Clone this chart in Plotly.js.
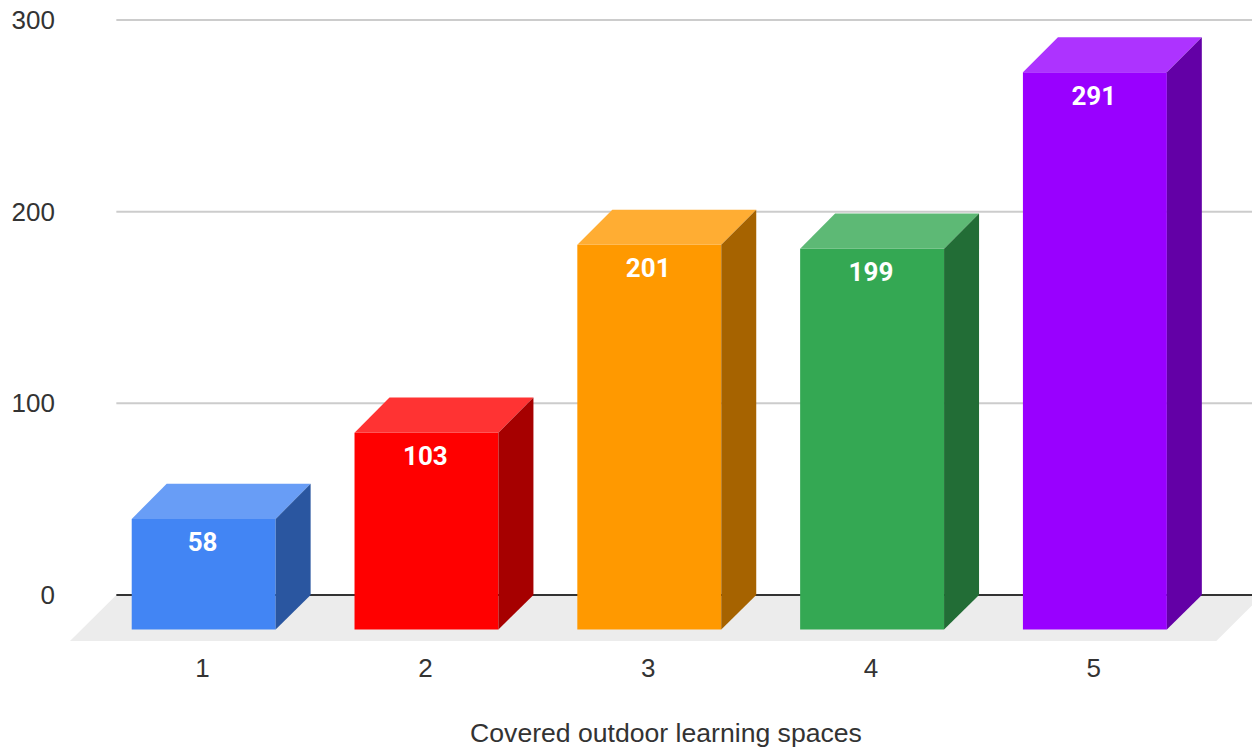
<!DOCTYPE html>
<html>
<head>
<meta charset="utf-8">
<script src="https://cdn.plot.ly/plotly-3.0.1.min.js"></script>
<style>html,body{margin:0;padding:0;background:#fff;overflow:hidden}#frame{width:1252px;height:748px;overflow:hidden}#chart{width:1262px;height:748px}</style>
</head>
<body>
<div id="frame"><div id="chart"></div></div>
<script>
var categories = [1, 2, 3, 4, 5];
var values = [58, 103, 201, 199, 291];
var frontColors = ['#4285f4', '#ff0000', '#ff9900', '#34a853', '#9900ff'];
var topColors = ['#689df6', '#ff3333', '#ffad33', '#5db975', '#ad33ff'];
var sideColors = ['#2a56a0', '#a60000', '#a66300', '#226d36', '#6300a6'];
var yTicks = [0, 100, 200, 300];
var axisTitle = 'Covered outdoor learning spaces';

// Depth of the pseudo-3D projection, in axis units
var barWidth = 0.646, barShift = 0.005, depthX = 0.157, depthY = 18.3, baseDepth = 18;
var floorBackLeft = 0.613, floorFrontLeft = 0.405, floorDepth = 24;
var xMin = 0.405, xMax = 5.755, yMin = -24, yMax = 305.2;

var traces = [{
  type: 'bar',
  x: categories.map(function (c) { return c + barShift; }),
  y: values.map(function (v) { return v - depthY + baseDepth; }),
  base: -baseDepth, width: barWidth,
  marker: {color: frontColors, line: {width: 0}},
  hoverinfo: 'skip', showlegend: false
}];
categories.forEach(function (c, i) {
  var l = c + barShift - barWidth / 2, r = c + barShift + barWidth / 2, t = values[i] - depthY;
  traces.push({
    type: 'scatter', mode: 'lines', fill: 'toself', fillcolor: topColors[i],
    x: [l, r, r + depthX, l + depthX, l],
    y: [t, t, t + depthY, t + depthY, t],
    line: {width: 0}, hoverinfo: 'skip', showlegend: false, cliponaxis: false
  });
  traces.push({
    type: 'scatter', mode: 'lines', fill: 'toself', fillcolor: sideColors[i],
    x: [r, r + depthX, r + depthX, r, r],
    y: [t, t + depthY, 0, -baseDepth, t],
    line: {width: 0}, hoverinfo: 'skip', showlegend: false, cliponaxis: false
  });
});
traces.push({
  type: 'scatter', mode: 'text', x: categories,
  y: values.map(function (v) { return v - depthY - 13.6; }),
  text: values.map(String), textposition: 'middle center',
  textfont: {family: 'Roboto, sans-serif', size: 26, color: '#ffffff', weight: 700},
  hoverinfo: 'skip', showlegend: false
});

var shapes = [{
  type: 'path', layer: 'below', xref: 'x', yref: 'y', line: {width: 0}, fillcolor: '#ececec',
  path: 'M' + floorFrontLeft + ',' + (-floorDepth) + ' L' + (floorFrontLeft + 5.145) + ',' + (-floorDepth) +
        ' L' + (floorFrontLeft + 5.145 + 0.207) + ',0 L' + floorBackLeft + ',0 Z'
}];
yTicks.forEach(function (v) {
  shapes.push({
    type: 'line', layer: 'below', xref: 'x', yref: 'y',
    x0: floorBackLeft, x1: xMax, y0: v, y1: v,
    line: {color: v === 0 ? '#333333' : '#cccccc', width: 2}
  });
});

var layout = {
  width: 1262, height: 748,
  margin: {l: 70, r: 0, t: 10, b: 107},
  paper_bgcolor: '#ffffff', plot_bgcolor: '#ffffff',
  showlegend: false, shapes: shapes,
  font: {family: '"Liberation Sans", Arial, sans-serif', size: 26, color: '#333333'},
  xaxis: {
    range: [xMin, xMax], tickmode: 'array', tickvals: categories, ticktext: categories.map(String),
    showgrid: false, zeroline: false, showline: false, ticks: '', ticklabelstandoff: 9,
    title: {text: axisTitle, standoff: 42, font: {size: 26.6, color: '#333333'}}
  },
  yaxis: {
    range: [yMin, yMax], tickmode: 'array', tickvals: yTicks, ticktext: yTicks.map(String),
    showgrid: false, zeroline: false, showline: false, ticks: '', ticklabelstandoff: 14
  }
};
Plotly.newPlot('chart', traces, layout, {displayModeBar: false, responsive: false});
</script>
</body>
</html>
